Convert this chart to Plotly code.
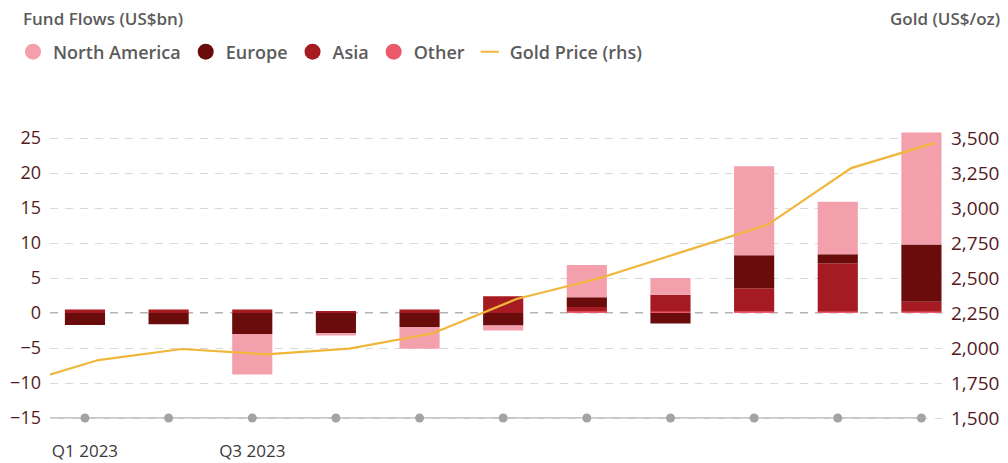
import plotly.graph_objects as go

# ---------------- data ----------------
quarters = ["Q1 2023", "Q2 2023", "Q3 2023", "Q4 2023", "Q1 2024", "Q2 2024",
            "Q3 2024", "Q4 2024", "Q1 2025", "Q2 2025", "Q3 2025"]
tick_labels = ["Q1 2023", "", "Q3 2023", "", "", "", "", "", "", "", ""]

north_america = [0.0, 0.0, -5.8, -0.3, -3.1, -0.7, 4.6, 2.4, 12.7, 7.5, 16.0]
europe = [-1.7, -1.6, -3.0, -2.9, -2.0, -1.8, 1.4, -1.5, 4.7, 1.3, 8.2]
asia = [0.5, 0.5, 0.5, 0.3, 0.5, 2.4, 0.6, 2.4, 3.3, 6.9, 1.4]
other = [0.0, 0.0, 0.0, 0.0, 0.0, 0.0, 0.25, 0.2, 0.25, 0.2, 0.2]

gold_quarters = ["Q4 2022"] + quarters
gold_price = [1735, 1914, 1993, 1955, 1995, 2105, 2350, 2500, 2690, 2880, 3285, 3465]

left_ticks = [-15, -10, -5, 0, 5, 10, 15, 20, 25]
right_ticks = [1500, 1750, 2000, 2250, 2500, 2750, 3000, 3250, 3500]

# ---------------- style ----------------
C_NA = "#F4A0AC"
C_EU = "#6B0C0C"
C_AS = "#A61B21"
C_OT = "#EA5A6B"
C_GOLD = "#F0B63A"
C_TICK = "#541A22"
C_TEXT = "#5B5B5B"
FONT = "Open Sans"

OFF = 8  # page body margin around the figure
W, H = 1000, 455
L, R, T, B = 42, 66, 120, 41
PW, PH = W - L - R, H - T - B

LINE_SHIFT = 0.16
idx = list(range(len(quarters)))
gold_idx = [i - 1 + LINE_SHIFT for i in range(len(gold_quarters))]

X_MIN, X_MAX = -0.418, 10.246
Y_MIN, Y_MAX = -15.571, 26.429
Y2_MIN = 1500 + (Y_MIN + 15) * 50
Y2_MAX = 1500 + (Y_MAX + 15) * 50


def px_x(px):
    return (px - OFF - L) / PW


def px_y(py):
    return (H - B - (py - OFF)) / PH


fig = go.Figure()

for name, vals, col in [("Other", other, C_OT), ("Asia", asia, C_AS),
                        ("Europe", europe, C_EU), ("North America", north_america, C_NA)]:
    fig.add_trace(go.Bar(x=idx, y=vals, name=name, marker=dict(color=col, line=dict(width=0)),
                         width=0.48, showlegend=False, hovertext=quarters))

# bottom axis dots
fig.add_trace(go.Scatter(x=idx, y=[left_ticks[0]] * len(idx), mode="markers",
                         marker=dict(color="#A3A3A3", size=9), showlegend=False,
                         cliponaxis=False, hoverinfo="skip"))

fig.add_trace(go.Scatter(x=gold_idx, y=gold_price, yaxis="y2", mode="lines",
                         line=dict(color=C_GOLD, width=2.2), showlegend=False,
                         hovertext=gold_quarters, name="Gold Price (rhs)"))

# legend entries
for name, col in [("North America", C_NA), ("Europe", C_EU), ("Asia", C_AS), ("Other", C_OT)]:
    fig.add_trace(go.Scatter(x=[None], y=[None], mode="markers", name=name,
                             marker=dict(color=col, size=18, symbol="circle")))
fig.add_trace(go.Scatter(x=[None], y=[None], mode="markers", name="Gold Price (rhs)",
                         marker=dict(symbol="line-ew", size=13, line=dict(color=C_GOLD, width=2))))

fig.update_layout(
    width=W, height=H,
    margin=dict(l=L, r=R, t=T, b=B, autoexpand=False),
    plot_bgcolor="white", paper_bgcolor="white",
    barmode="relative",
    font=dict(family=FONT, color=C_TEXT),
    xaxis=dict(range=[X_MIN, X_MAX], tickvals=idx, ticktext=tick_labels, showgrid=False,
               zeroline=False, showline=False, ticks="", ticklabelstandoff=17,
               tickfont=dict(size=17, color="#3A3A3A", family=FONT)),
    yaxis=dict(range=[Y_MIN, Y_MAX], tickvals=left_ticks, showgrid=True,
               gridcolor="#D9D9D9", griddash="8px,7px", gridwidth=1, zeroline=False,
               showline=False, ticks="", ticklabelstandoff=8,
               tickfont=dict(size=18, color=C_TICK, family=FONT)),
    yaxis2=dict(range=[Y2_MIN, Y2_MAX], tickvals=right_ticks, tickformat=",",
                overlaying="y", side="right", showgrid=False, zeroline=False,
                showline=False, ticks="", ticklabelstandoff=8,
                tickfont=dict(size=19, color=C_TICK, family=FONT)),
    legend=dict(orientation="h", x=px_x(13), xanchor="left", y=px_y(52), yanchor="middle",
                font=dict(size=18, color=C_TEXT, family=FONT, weight=600), itemwidth=30,
                bgcolor="rgba(0,0,0,0)"),
    showlegend=True,
)

fig.add_shape(type="line", xref="x", yref="y", x0=X_MIN, x1=idx[-1], y0=left_ticks[0],
              y1=left_ticks[0], line=dict(color="#B5B5B5", width=1.5), layer="below")
fig.add_shape(type="line", xref="paper", yref="y", x0=0, x1=1, y0=0, y1=0,
              line=dict(color="#9A9A9A", width=1.5, dash="8px,7px"), layer="between")
# no dashed grid line at -15 (solid axis line there instead)
fig.add_shape(type="rect", xref="paper", yref="y", x0=0, x1=1, y0=Y_MIN, y1=-12.5,
              fillcolor="white", line=dict(width=0), layer="between")

fig.add_annotation(text="Fund Flows (US$bn)", xref="paper", yref="paper",
                   x=px_x(21), y=px_y(19), xanchor="left", yanchor="middle", showarrow=False,
                   font=dict(size=17, color=C_TEXT, family=FONT, weight=600))
fig.add_annotation(text="Gold (US$/oz)", xref="paper", yref="paper",
                   x=px_x(1002), y=px_y(19), xanchor="right", yanchor="middle", showarrow=False,
                   font=dict(size=17, color=C_TEXT, family=FONT, weight=600))

fig.write_html("out.html")
